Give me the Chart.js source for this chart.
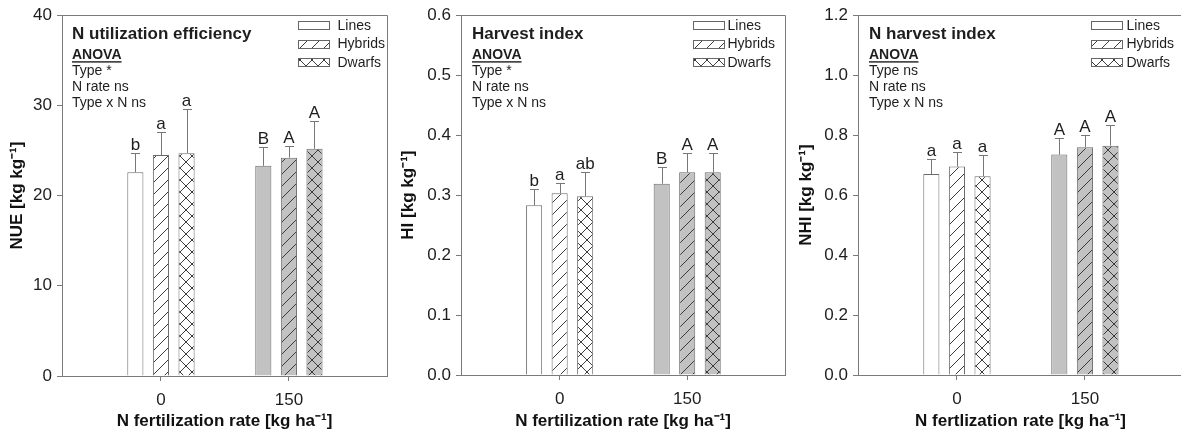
<!DOCTYPE html>
<html>
<head>
<meta charset="utf-8">
<script src="https://cdn.jsdelivr.net/npm/chart.js@4"></script>
<style>
  html, body { margin: 0; padding: 0; background: #fff; overflow: hidden; width: 1181px; height: 435px; }
  #wrap { position: relative; width: 1181px; height: 435px; overflow: hidden; }
  canvas { position: absolute; top: 0; }
</style>
</head>
<body>
<div id="wrap">
  <canvas id="nue" width="395" height="435" style="left:0px"></canvas>
  <canvas id="hi" width="395" height="435" style="left:395px"></canvas>
  <canvas id="nhi" width="395" height="435" style="left:790px"></canvas>
</div>
<script>
// N fertilization rates (kg ha-1) and genotype types
const rates = [0, 150];
const types = ['Lines', 'Hybrids', 'Dwarfs'];

// N utilization efficiency (kg kg-1), means and SD per rate
const nueLines = [22.6, 23.3];
const nueHybrids = [24.5, 24.2];
const nueDwarfs = [24.7, 25.2];
const nueLinesErr = [2.1, 2.1];
const nueHybridsErr = [2.6, 1.3];
const nueDwarfsErr = [4.9, 3.1];
const nueLetters = [['b', 'B'], ['a', 'A'], ['a', 'A']];

// Harvest index (kg kg-1)
const hiLines = [0.283, 0.319];
const hiHybrids = [0.303, 0.338];
const hiDwarfs = [0.298, 0.338];
const hiLinesErr = [0.027, 0.028];
const hiHybridsErr = [0.018, 0.032];
const hiDwarfsErr = [0.040, 0.032];
const hiLetters = [['b', 'B'], ['a', 'A'], ['ab', 'A']];

// N harvest index (kg kg-1)
const nhiLines = [0.670, 0.735];
const nhiHybrids = [0.695, 0.760];
const nhiDwarfs = [0.663, 0.765];
const nhiLinesErr = [0.051, 0.054];
const nhiHybridsErr = [0.049, 0.041];
const nhiDwarfsErr = [0.071, 0.068];
const nhiLetters = [['a', 'A'], ['a', 'A'], ['a', 'A']];

// Axis ticks
const nueTicks = [0, 10, 20, 30, 40];
const hiTicks = [0, 0.1, 0.2, 0.3, 0.4, 0.5, 0.6];
const nhiTicks = [0, 0.2, 0.4, 0.6, 0.8, 1.0, 1.2];

const FAMILY = '"Liberation Sans", Arial, Helvetica, sans-serif';
const AXIS = '#7a7a7a';
const INK = '#1e1e1e';

// Fill patterns: plain, single diagonal hatch, cross hatch
function makeFill(kind, bg) {
  const s = 12;
  const c = document.createElement('canvas');
  c.width = s; c.height = s;
  const g = c.getContext('2d');
  g.fillStyle = bg;
  g.fillRect(0, 0, s, s);
  if (kind === 'plain') return g.createPattern(c, 'repeat');
  g.strokeStyle = '#3c3c3c';
  g.lineWidth = 1;
  g.beginPath();
  g.moveTo(-1, s + 1); g.lineTo(s + 1, -1);
  g.moveTo(-1, 1); g.lineTo(1, -1);
  g.moveTo(s - 1, s + 1); g.lineTo(s + 1, s - 1);
  if (kind === 'cross') {
    g.moveTo(-1, -1); g.lineTo(s + 1, s + 1);
    g.moveTo(s - 1, -1); g.lineTo(s + 1, 1);
    g.moveTo(-1, s - 1); g.lineTo(1, s + 1);
  }
  g.stroke();
  return g.createPattern(c, 'repeat');
}
const kinds = ['plain', 'diag', 'cross'];
const fills = kinds.map(k => [makeFill(k, '#ffffff'), makeFill(k, '#c2c2c2')]);

// Frame on top and right of the plot area
const framePlugin = {
  id: 'frame',
  beforeDatasetsDraw(chart) {
    const { ctx, chartArea: a } = chart;
    const t = Math.round(a.top) + 0.5, r = Math.round(a.right) + 0.5;
    ctx.save();
    ctx.strokeStyle = AXIS;
    ctx.lineWidth = 1;
    ctx.beginPath();
    ctx.moveTo(Math.round(a.left), t);
    ctx.lineTo(r, t);
    ctx.lineTo(r, Math.round(a.bottom));
    ctx.stroke();
    ctx.restore();
  }
};

// Upper error bars and significance letters
const errorPlugin = {
  id: 'errbars',
  afterDatasetsDraw(chart) {
    const { ctx } = chart;
    const ys = chart.scales.y;
    ctx.save();
    chart.data.datasets.forEach((ds, k) => {
      const meta = chart.getDatasetMeta(k);
      meta.data.forEach((bar, i) => {
        const v = ds.data[i].y, e = ds.err[i];
        const yTop = Math.round(ys.getPixelForValue(v + e)) + 0.5;
        const x = Math.round(bar.x) + 0.5;
        ctx.strokeStyle = '#777777';
        ctx.lineWidth = 1;
        ctx.beginPath();
        ctx.moveTo(x, bar.y);
        ctx.lineTo(x, yTop);
        ctx.moveTo(x - 4.5, yTop);
        ctx.lineTo(x + 4.5, yTop);
        ctx.stroke();
        ctx.fillStyle = INK;
        ctx.font = '17px ' + FAMILY;
        ctx.textAlign = 'center';
        ctx.textBaseline = 'alphabetic';
        ctx.fillText(ds.letters[i], bar.x, yTop - 4);
      });
    });
    ctx.restore();
  }
};

// Panel heading, ANOVA summary and legend inside the plot area
const notesPlugin = {
  id: 'notes',
  afterDraw(chart, args, opts) {
    const { ctx, chartArea: a } = chart;
    ctx.save();
    ctx.fillStyle = INK;
    ctx.textAlign = 'left';
    ctx.textBaseline = 'middle';
    const x0 = a.left + opts.dx;
    ctx.font = 'bold 17px ' + FAMILY;
    ctx.fillText(opts.heading, x0, a.top + 19);
    ctx.font = 'bold 14px ' + FAMILY;
    ctx.fillText('ANOVA', x0, a.top + 40);
    const w = ctx.measureText('ANOVA').width;
    ctx.fillRect(x0, a.top + 46, w, 1.4);
    ctx.font = '14px ' + FAMILY;
    opts.lines.forEach((t, i) => ctx.fillText(t, x0, a.top + 56 + 16 * i));

    // legend
    const bx = Math.round(a.right - opts.legendRight) + 0.5;
    chart.data.datasets.forEach((ds, k) => {
      const cy = a.top + 10 + 18.5 * k;
      const by = Math.round(cy - 4) + 0.5;
      ctx.fillStyle = ds.backgroundColor[0];
      ctx.fillRect(bx, by, 31, 8);
      ctx.strokeStyle = '#666666';
      ctx.lineWidth = 1;
      ctx.strokeRect(bx, by, 31, 8);
      ctx.fillStyle = INK;
      ctx.font = '14px ' + FAMILY;
      ctx.fillText(ds.label, bx + opts.legendGap, cy + 0.5);
    });
    ctx.restore();
  }
};

function buildPanel(id, cfg) {
  const datasets = types.map((t, k) => ({
    label: t,
    data: rates.map((r, i) => ({ x: r, y: cfg.values[k][i] })),
    err: cfg.errors[k],
    letters: cfg.letters[k],
    backgroundColor: fills[k],
    borderColor: '#6a6a6a',
    borderWidth: 1,
    categoryPercentage: 0.6,
    barPercentage: 0.63
  }));
  return new Chart(document.getElementById(id), {
    type: 'bar',
    data: { datasets },
    plugins: [framePlugin, errorPlugin, notesPlugin],
    options: {
      responsive: false,
      animation: false,
      events: [],
      layout: { padding: { left: 0, right: cfg.padRight, top: 13, bottom: 0 } },
      plugins: {
        legend: { display: false },
        tooltip: { enabled: false },
        notes: cfg.notes
      },
      scales: {
        x: {
          type: 'linear',
          min: -116,
          max: 265,
          offset: false,
          afterBuildTicks: s => { s.ticks = rates.map(v => ({ value: v })); },
          afterFit: s => { s.height = cfg.xHeight; },
          grid: { display: true, offset: false, drawOnChartArea: false, drawTicks: true, tickLength: 5, color: AXIS },
          border: { display: true, color: AXIS, width: 1 },
          ticks: { color: INK, font: { size: 17, family: FAMILY }, padding: 9, maxRotation: 0, autoSkip: false, callback: v => String(v) },
          title: { display: true, text: cfg.xTitle, color: '#111', font: { size: 17, weight: 'bold', family: FAMILY }, padding: { top: 0, bottom: 3 } }
        },
        y: {
          min: 0,
          max: cfg.ticks[cfg.ticks.length - 1],
          afterBuildTicks: s => { s.ticks = cfg.ticks.map(v => ({ value: v })); },
          afterFit: s => { s.width = cfg.yWidth; },
          grid: { display: true, drawOnChartArea: false, drawTicks: true, tickLength: 5, color: AXIS },
          border: { display: true, color: AXIS, width: 1 },
          ticks: { color: INK, font: { size: 17, family: FAMILY }, padding: 5, callback: v => v.toFixed(cfg.decimals) },
          title: { display: true, text: cfg.yTitle, color: '#111', font: { size: 17, weight: 'bold', family: FAMILY }, padding: { top: cfg.yTitlePad, bottom: 0 } }
        }
      }
    }
  });
}

buildPanel('nue', {
  values: [nueLines, nueHybrids, nueDwarfs],
  errors: [nueLinesErr, nueHybridsErr, nueDwarfsErr],
  letters: nueLetters,
  ticks: nueTicks, decimals: 0,
  yTitle: 'NUE [kg kg\u207B\u00B9]',
  xTitle: 'N fertilization rate [kg ha\u207B\u00B9]',
  yWidth: 62, padRight: 8, xHeight: 59, yTitlePad: 7,
  notes: { heading: 'N utilization efficiency', lines: ['Type *', 'N rate ns', 'Type x N ns'], dx: 10, legendRight: 89, legendGap: 39 }
});

buildPanel('hi', {
  values: [hiLines, hiHybrids, hiDwarfs],
  errors: [hiLinesErr, hiHybridsErr, hiDwarfsErr],
  letters: hiLetters,
  ticks: hiTicks, decimals: 1,
  yTitle: 'HI [kg kg\u207B\u00B9]',
  xTitle: 'N fertilization rate [kg ha\u207B\u00B9]',
  yWidth: 66, padRight: 5, xHeight: 60, yTitlePad: 3,
  notes: { heading: 'Harvest index', lines: ['Type *', 'N rate ns', 'Type x N ns'], dx: 11, legendRight: 92, legendGap: 34 }
});

buildPanel('nhi', {
  values: [nhiLines, nhiHybrids, nhiDwarfs],
  errors: [nhiLinesErr, nhiHybridsErr, nhiDwarfsErr],
  letters: nhiLetters,
  ticks: nhiTicks, decimals: 1,
  yTitle: 'NHI [kg kg\u207B\u00B9]',
  xTitle: 'N fertlization rate [kg ha\u207B\u00B9]',
  yWidth: 68, padRight: 2, xHeight: 60, yTitlePad: 6,
  notes: { heading: 'N harvest index', lines: ['Type ns', 'N rate ns', 'Type x N ns'], dx: 11, legendRight: 92, legendGap: 35 }
});
</script>
</body>
</html>
